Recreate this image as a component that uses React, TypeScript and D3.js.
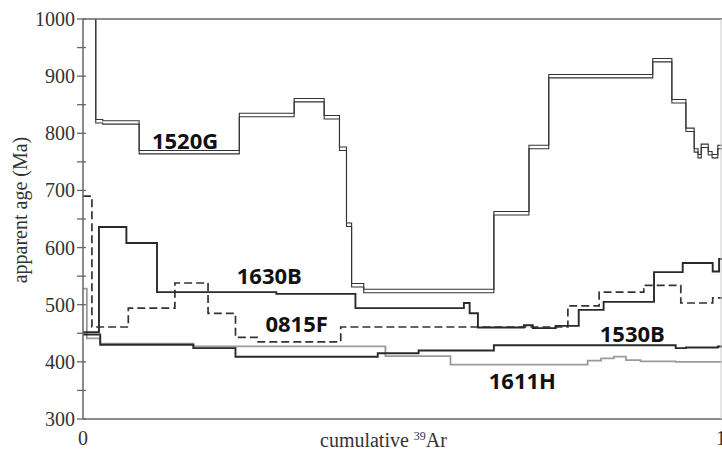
import React, { useEffect, useRef } from 'react';
import * as d3 from 'd3';

// step spectra: left edges (cumulative 39Ar fraction) and apparent ages (Ma)
const edges1520G = [0, 0.020, 0.031, 0.088, 0.245, 0.331, 0.378, 0.402, 0.413, 0.421, 0.440, 0.644, 0.699, 0.730, 0.893, 0.923, 0.945, 0.958, 0.964, 0.969, 0.980, 0.986, 0.995];
const ages1520G = [1060, 821, 819, 767, 832, 858, 828, 773, 640, 534, 524, 660, 776, 900, 928, 856, 806, 770, 760, 778, 765, 760, 776];

const edges1630B = [0, 0.025, 0.068, 0.116, 0.303, 0.427, 0.597, 0.606, 0.619, 0.691, 0.705, 0.741, 0.777, 0.816, 0.895, 0.940, 0.987, 0.997];
const ages1630B = [452, 636, 608, 522, 519, 494, 503, 485, 460, 464, 459, 463, 491, 505, 557, 573, 558, 580];

const edges0815F = [0, 0.014, 0.071, 0.144, 0.196, 0.239, 0.273, 0.404, 0.760, 0.809, 0.879, 0.937, 0.987];
const ages0815F = [690, 461, 494, 538, 485, 443, 435, 461, 498, 522, 534, 503, 512];

const edges1530B = [0, 0.027, 0.173, 0.239, 0.462, 0.526, 0.644, 0.929, 0.945, 0.995];
const ages1530B = [448, 430, 424, 409, 415, 420, 429, 424, 425, 427];

const edges1611H = [0, 0.006, 0.027, 0.173, 0.474, 0.576, 0.791, 0.812, 0.832, 0.851, 0.874, 0.929];
const ages1611H = [528, 441, 432, 427, 410, 395, 402, 406, 409, 403, 401, 400];

const yTicks = [300, 400, 500, 600, 700, 800, 900, 1000];
const yMinorTicks = [350, 450, 550, 650, 750, 850, 950];
const xTicks = [0, 1];

const sampleNames = ['1520G', '1630B', '0815F', '1530B', '1611H'];
const labelX = [0.108, 0.241, 0.286, 0.810, 0.636];
const labelAge = [772, 536, 452, 434, 353];

export default function App() {
  const svgRef = useRef<SVGSVGElement>(null);

  useEffect(() => {
    if (!svgRef.current) return;
    const width = 722, height = 456;
    const left = 83, right = 721, top = 19, bottom = 419;

    const svg = d3.select(svgRef.current);
    svg.selectAll('*').remove();

    const x = d3.scaleLinear().domain([0, 1]).range([left, right]);
    const y = d3.scaleLinear().domain([300, 1000]).range([bottom, top]);

    svg.append('rect').attr('width', width).attr('height', height).attr('fill', '#fff');

    svg.append('clipPath').attr('id', 'plotclip')
      .append('rect').attr('x', left).attr('y', top).attr('width', width - left).attr('height', bottom - top);

    const stepLine = d3.line<[number, number]>()
      .x(d => x(d[0]))
      .y(d => y(d[1]))
      .curve(d3.curveStepAfter);

    const pts = (edges: number[], ages: number[], off = 0): [number, number][] => {
      const p: [number, number][] = edges.map((e, i) => [e, ages[i] + off]);
      p.push([1.01, ages[ages.length - 1] + off]);
      return p;
    };

    const plot = svg.append('g').attr('clip-path', 'url(#plotclip)');

    // 1611H grey
    plot.append('path').attr('d', stepLine(pts(edges1611H, ages1611H)))
      .attr('fill', 'none').attr('stroke', '#9a9a9a').attr('stroke-width', 1.8);
    // 1530B
    plot.append('path').attr('d', stepLine(pts(edges1530B, ages1530B)))
      .attr('fill', 'none').attr('stroke', '#2a2a2a').attr('stroke-width', 1.9);
    // 0815F dashed
    plot.append('path').attr('d', stepLine(pts(edges0815F, ages0815F)))
      .attr('fill', 'none').attr('stroke', '#333').attr('stroke-width', 1.7)
      .attr('stroke-dasharray', '8,4');
    // 1630B
    plot.append('path').attr('d', stepLine(pts(edges1630B, ages1630B)))
      .attr('fill', 'none').attr('stroke', '#2a2a2a').attr('stroke-width', 1.9);
    // 1520G double line (error envelope)
    [-3, 3].forEach(off => {
      plot.append('path').attr('d', stepLine(pts(edges1520G, ages1520G, off)))
        .attr('fill', 'none').attr('stroke', '#333').attr('stroke-width', 1.1);
    });

    // frame
    const axisColor = '#666';
    svg.append('line').attr('x1', left).attr('x2', width).attr('y1', top).attr('y2', top)
      .attr('stroke', axisColor).attr('stroke-width', 1.3);
    svg.append('line').attr('x1', left).attr('x2', width).attr('y1', bottom).attr('y2', bottom)
      .attr('stroke', axisColor).attr('stroke-width', 1.5);
    svg.append('line').attr('x1', left).attr('x2', left).attr('y1', top).attr('y2', bottom)
      .attr('stroke', axisColor).attr('stroke-width', 1.5);
    svg.append('line').attr('x1', right).attr('x2', right).attr('y1', top).attr('y2', bottom)
      .attr('stroke', '#ccc').attr('stroke-width', 1);

    // y ticks
    const tickG = svg.append('g');
    [...yTicks, ...yMinorTicks].forEach(t => {
      tickG.append('line').attr('x1', left - 6).attr('x2', left + 3)
        .attr('y1', y(t)).attr('y2', y(t)).attr('stroke', axisColor).attr('stroke-width', 1.3);
    });
    svg.append('g').selectAll('text').data(yTicks).join('text')
      .attr('x', left - 8).attr('y', d => y(d)).attr('dy', '0.35em')
      .attr('text-anchor', 'end')
      .style('font-family', '"Liberation Serif", serif').style('font-size', '20px').attr('fill', '#333')
      .text(d => d);

    svg.append('g').selectAll('text').data(xTicks).join('text')
      .attr('x', d => x(d)).attr('y', bottom + 26)
      .attr('text-anchor', 'middle')
      .style('font-family', '"Liberation Serif", serif').style('font-size', '20px').attr('fill', '#333')
      .text(d => d);

    // axis titles
    const xt = svg.append('text').attr('x', 320).attr('y', 447)
      .style('font-family', '"Liberation Serif", serif').style('font-size', '20px').attr('fill', '#333');
    xt.append('tspan').text('cumulative ');
    xt.append('tspan').attr('dy', -7).style('font-size', '12px').text('39');
    xt.append('tspan').attr('dy', 7).text('Ar');

    svg.append('text')
      .attr('transform', `translate(27, ${(137 + 283) / 2}) rotate(-90)`)
      .attr('text-anchor', 'middle')
      .style('font-family', '"Liberation Serif", serif').style('font-size', '20px').attr('fill', '#333')
      .text('apparent age (Ma)');

    // sample labels
    svg.append('g').selectAll('text').data(sampleNames).join('text')
      .attr('x', (d, i) => x(labelX[i])).attr('y', (d, i) => y(labelAge[i]))
      .style('font-family', '"Open Sans", sans-serif').style('font-size', '22px')
      .style('font-weight', '700').attr('fill', '#111')
      .text(d => d);
  }, []);

  return (
    <svg ref={svgRef} width={722} height={456}
      style={{ position: 'absolute', left: 0, top: 0, display: 'block' }} />
  );
}
